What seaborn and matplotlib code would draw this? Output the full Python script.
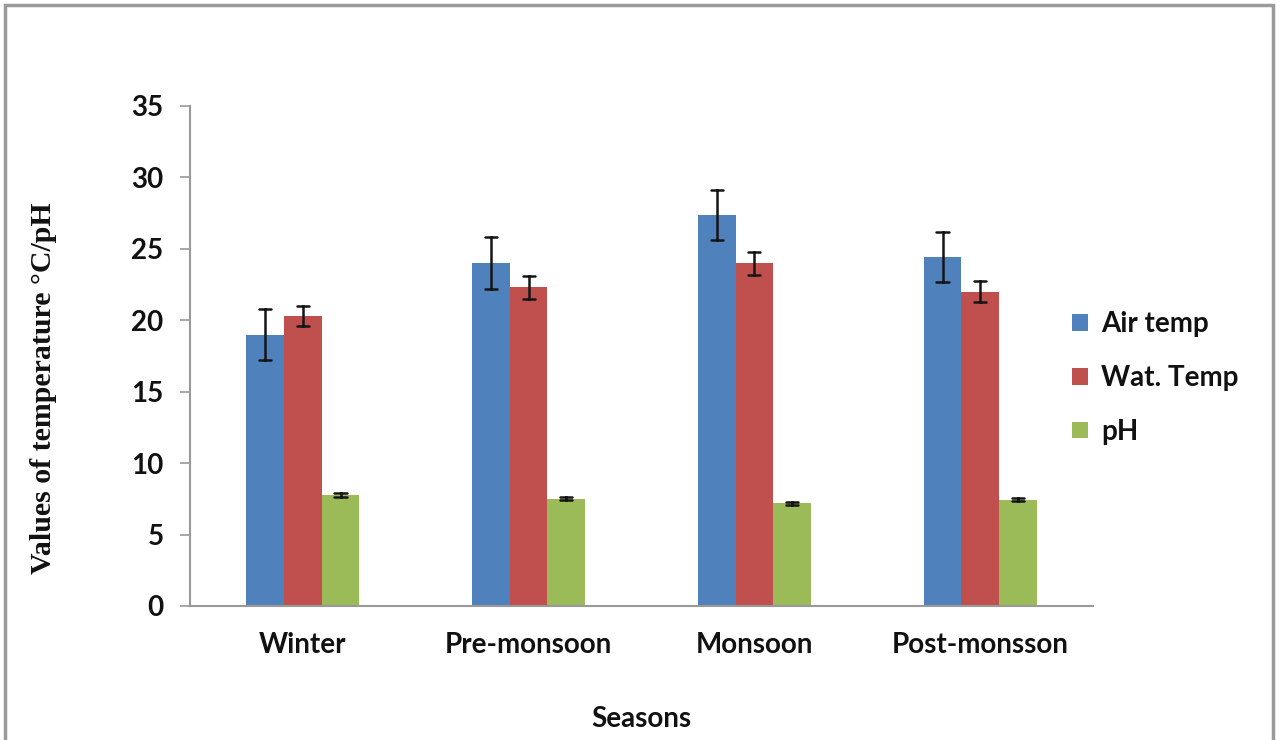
import numpy as np
import pandas as pd
import seaborn as sns
import matplotlib.pyplot as plt
from matplotlib.patches import Rectangle

sns.set_style("white")

seasons = ["Winter", "Pre-monsoon", "Monsoon", "Post-monsson"]
series = ["Air temp", "Wat. Temp", "pH"]
air_temp = [19.0, 24.0, 27.4, 24.4]
wat_temp = [20.3, 22.3, 24.0, 22.0]
ph = [7.75, 7.5, 7.2, 7.45]
air_err = [1.8, 1.8, 1.75, 1.75]
wat_err = [0.7, 0.8, 0.8, 0.75]
ph_err = [0.15, 0.1, 0.1, 0.1]
colors = ["#4F81BD", "#C0504D", "#9BBB59"]

# two rows per cell (mean - err, mean + err) so seaborn's mean is the value
# and the min/max interval is the error bar
rows = []
for name, vals, errs in zip(series, [air_temp, wat_temp, ph], [air_err, wat_err, ph_err]):
    for s, v, e in zip(seasons, vals, errs):
        rows.append({"Season": s, "Series": name, "Value": v - e})
        rows.append({"Season": s, "Series": name, "Value": v + e})
df = pd.DataFrame(rows)

fig = plt.figure(figsize=(12.81, 7.40), dpi=100)
ax = fig.add_axes([190 / 1281, 1 - 606 / 740, (1093 - 190) / 1281, 500 / 740])

sns.barplot(data=df, x="Season", y="Value", hue="Series", palette=colors,
            width=0.5, gap=0, saturation=1, linewidth=0,
            errorbar=lambda x: (np.min(x), np.max(x)),
            capsize=0.16, err_kws={"color": "#151515", "linewidth": 1.8},
            ax=ax)

ax.set_ylim(0, 35)
ax.set_xlim(-0.5, 3.5)
ax.set_yticks(range(0, 36, 5))

for lbl in ax.get_yticklabels() + ax.get_xticklabels():
    lbl.set_fontfamily("Lato")
    lbl.set_fontweight("bold")
    lbl.set_fontsize(20)
    lbl.set_color("#111111")

ax.tick_params(axis="y", direction="out", length=7, width=1.2, color="#999999", pad=12, left=True)
ax.tick_params(axis="x", length=0, pad=19)

for side in ["top", "right"]:
    ax.spines[side].set_visible(False)
for side in ["left", "bottom"]:
    ax.spines[side].set_color("#999999")
    ax.spines[side].set_linewidth(1.5)

ax.set_xlabel("Seasons", family="Lato", weight="bold", size=20, labelpad=34, color="#111111")
ax.set_ylabel("Values of temperature \u00b0C/pH", family="Liberation Serif",
              weight="bold", size=21.5, color="#111111")
ax.yaxis.set_label_coords(-0.147, 0.436)

sns.move_legend(ax, loc="center left", bbox_to_anchor=(0.977, 0.456), frameon=False,
                title=None, borderaxespad=0, borderpad=0, labelspacing=1.0,
                handlelength=0.55, handleheight=0.55, handletextpad=0.5,
                prop={"family": "Lato", "weight": "bold", "size": 20})
for t in ax.get_legend().get_texts():
    t.set_color("#111111")

fig.patches.append(Rectangle((5 / 1281, -0.02), 1268 / 1281, 1.02 - 5 / 740,
                             transform=fig.transFigure, fill=False,
                             edgecolor="#9a9a9a", linewidth=2.5))

fig.savefig("out.png", dpi=100)
